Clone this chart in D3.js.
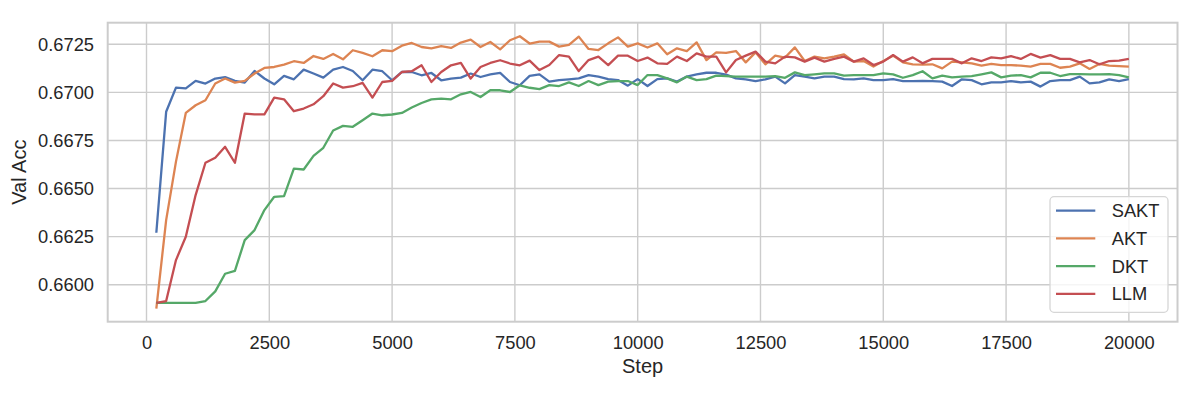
<!DOCTYPE html>
<html>
<head>
<meta charset="utf-8">
<script src="https://cdn.jsdelivr.net/npm/d3@7"></script>
<style>
  html, body { margin: 0; padding: 0; background: #fff; }
  text { font-family: 'Liberation Sans', Arial, sans-serif; fill: #262626; }
</style>
</head>
<body>
<div id="chart"></div>
<script>
var steps = [200, 400, 600, 800, 1000, 1200, 1400, 1600, 1800, 2000,
  2200, 2400, 2600, 2800, 3000, 3200, 3400, 3600, 3800, 4000,
  4200, 4400, 4600, 4800, 5000, 5200, 5400, 5600, 5800, 6000,
  6200, 6400, 6600, 6800, 7000, 7200, 7400, 7600, 7800, 8000,
  8200, 8400, 8600, 8800, 9000, 9200, 9400, 9600, 9800, 10000,
  10200, 10400, 10600, 10800, 11000, 11200, 11400, 11600, 11800, 12000,
  12200, 12400, 12600, 12800, 13000, 13200, 13400, 13600, 13800, 14000,
  14200, 14400, 14600, 14800, 15000, 15200, 15400, 15600, 15800, 16000,
  16200, 16400, 16600, 16800, 17000, 17200, 17400, 17600, 17800, 18000,
  18200, 18400, 18600, 18800, 19000, 19200, 19400, 19600, 19800, 20000]

var sakt = [0.66270, 0.66899, 0.67025, 0.67021, 0.67060, 0.67046, 0.67072, 0.67079, 0.67060, 0.67051,
  0.67111, 0.67072, 0.67042, 0.67086, 0.67068, 0.67118, 0.67098, 0.67077, 0.67118, 0.67132,
  0.67111, 0.67063, 0.67118, 0.67110, 0.67063, 0.67106, 0.67106, 0.67089, 0.67101, 0.67063,
  0.67072, 0.67077, 0.67098, 0.67080, 0.67094, 0.67101, 0.67054, 0.67037, 0.67086, 0.67094,
  0.67056, 0.67064, 0.67068, 0.67073, 0.67090, 0.67082, 0.67069, 0.67064, 0.67035, 0.67069,
  0.67033, 0.67069, 0.67073, 0.67056, 0.67082, 0.67094, 0.67102, 0.67102, 0.67092, 0.67073,
  0.67068, 0.67059, 0.67068, 0.67082, 0.67047, 0.67090, 0.67082, 0.67073, 0.67082, 0.67082,
  0.67069, 0.67068, 0.67073, 0.67064, 0.67064, 0.67069, 0.67059, 0.67059, 0.67060, 0.67059,
  0.67056, 0.67033, 0.67068, 0.67064, 0.67042, 0.67052, 0.67052, 0.67059, 0.67052, 0.67056,
  0.67030, 0.67059, 0.67064, 0.67064, 0.67082, 0.67047, 0.67052, 0.67068, 0.67059, 0.67069]

var akt = [0.65876, 0.66336, 0.66640, 0.66893, 0.66933, 0.66959, 0.67046, 0.67072, 0.67051, 0.67060,
  0.67098, 0.67127, 0.67132, 0.67144, 0.67162, 0.67153, 0.67189, 0.67174, 0.67200, 0.67172,
  0.67219, 0.67205, 0.67188, 0.67219, 0.67214, 0.67243, 0.67257, 0.67236, 0.67229, 0.67240,
  0.67231, 0.67259, 0.67274, 0.67236, 0.67262, 0.67224, 0.67271, 0.67292, 0.67254, 0.67264,
  0.67264, 0.67238, 0.67247, 0.67290, 0.67226, 0.67220, 0.67255, 0.67286, 0.67238, 0.67255,
  0.67233, 0.67255, 0.67198, 0.67229, 0.67215, 0.67260, 0.67168, 0.67208, 0.67205, 0.67215,
  0.67156, 0.67208, 0.67146, 0.67191, 0.67181, 0.67234, 0.67163, 0.67186, 0.67177, 0.67186,
  0.67198, 0.67160, 0.67163, 0.67134, 0.67163, 0.67191, 0.67156, 0.67146, 0.67144, 0.67146,
  0.67125, 0.67160, 0.67156, 0.67151, 0.67139, 0.67148, 0.67142, 0.67142, 0.67139, 0.67134,
  0.67148, 0.67148, 0.67128, 0.67134, 0.67151, 0.67122, 0.67148, 0.67139, 0.67137, 0.67134]

var dkt = [0.65906, 0.65906, 0.65906, 0.65906, 0.65906, 0.65915, 0.65965, 0.66057, 0.66072, 0.66232,
  0.66284, 0.66388, 0.66457, 0.66461, 0.66604, 0.66599, 0.66670, 0.66712, 0.66802, 0.66826,
  0.66821, 0.66855, 0.66890, 0.66881, 0.66885, 0.66893, 0.66921, 0.66945, 0.66964, 0.66968,
  0.66964, 0.66990, 0.67002, 0.66976, 0.67011, 0.67011, 0.67002, 0.67037, 0.67024, 0.67017,
  0.67038, 0.67033, 0.67052, 0.67033, 0.67059, 0.67038, 0.67056, 0.67059, 0.67059, 0.67038,
  0.67090, 0.67090, 0.67073, 0.67052, 0.67082, 0.67064, 0.67069, 0.67087, 0.67085, 0.67082,
  0.67082, 0.67082, 0.67082, 0.67085, 0.67076, 0.67104, 0.67090, 0.67094, 0.67099, 0.67099,
  0.67087, 0.67090, 0.67090, 0.67090, 0.67099, 0.67094, 0.67076, 0.67090, 0.67110, 0.67073,
  0.67087, 0.67078, 0.67082, 0.67085, 0.67094, 0.67104, 0.67078, 0.67087, 0.67090, 0.67078,
  0.67102, 0.67102, 0.67085, 0.67095, 0.67095, 0.67094, 0.67094, 0.67095, 0.67090, 0.67078]

var llm = [0.65906, 0.65915, 0.66128, 0.66249, 0.66466, 0.66634, 0.66660, 0.66717, 0.66634, 0.66890,
  0.66886, 0.66886, 0.66973, 0.66964, 0.66902, 0.66916, 0.66938, 0.66980, 0.67046, 0.67025,
  0.67032, 0.67049, 0.66973, 0.67054, 0.67060, 0.67106, 0.67110, 0.67141, 0.67054, 0.67106,
  0.67141, 0.67153, 0.67072, 0.67132, 0.67153, 0.67167, 0.67150, 0.67141, 0.67165, 0.67116,
  0.67142, 0.67194, 0.67186, 0.67111, 0.67168, 0.67186, 0.67142, 0.67191, 0.67191, 0.67163,
  0.67181, 0.67151, 0.67148, 0.67186, 0.67163, 0.67203, 0.67186, 0.67186, 0.67104, 0.67168,
  0.67191, 0.67212, 0.67160, 0.67151, 0.67186, 0.67182, 0.67160, 0.67181, 0.67160, 0.67174,
  0.67186, 0.67160, 0.67177, 0.67142, 0.67160, 0.67194, 0.67160, 0.67182, 0.67151, 0.67174,
  0.67174, 0.67174, 0.67151, 0.67177, 0.67163, 0.67182, 0.67177, 0.67189, 0.67174, 0.67200,
  0.67181, 0.67194, 0.67174, 0.67174, 0.67156, 0.67168, 0.67146, 0.67163, 0.67165, 0.67174]

var seriesNames = ['SAKT', 'AKT', 'DKT', 'LLM']
var seriesValues = [sakt, akt, dkt, llm]
var colors = ['#4c72b0', '#dd8452', '#55a868', '#c44e52']
var xTicks = [0, 2500, 5000, 7500, 10000, 12500, 15000, 17500, 20000]
var yTicks = [0.6600, 0.6625, 0.6650, 0.6675, 0.6700, 0.6725]

var width = 1200
var height = 400
var margin = { left: 107.7, top: 22.7, right: 22.5, bottom: 78.3 }
var plotW = width - margin.left - margin.right
var plotH = height - margin.top - margin.bottom

var x = d3.scaleLinear()
  .domain([-790, 20990])
  .range([0, plotW])

var y = d3.scaleLinear()
  .domain([0.658076, 0.673623])
  .range([plotH, 0])

var svg = d3.select('#chart').append('svg')
  .attr('width', width)
  .attr('height', height)

svg.append('rect')
  .attr('width', width)
  .attr('height', height)
  .attr('fill', '#fff')

var g = svg.append('g')
  .attr('transform', 'translate(' + margin.left + ',' + margin.top + ')')

// grid lines
g.append('g').selectAll('line.vgrid')
  .data(xTicks)
  .enter().append('line')
  .attr('x1', d => x(d)).attr('x2', d => x(d))
  .attr('y1', 0).attr('y2', plotH)
  .attr('stroke', '#cccccc')
  .attr('stroke-width', 1.4)

g.append('g').selectAll('line.hgrid')
  .data(yTicks)
  .enter().append('line')
  .attr('x1', 0).attr('x2', plotW)
  .attr('y1', d => y(d)).attr('y2', d => y(d))
  .attr('stroke', '#cccccc')
  .attr('stroke-width', 1.4)

// axes (no tick marks, seaborn whitegrid style)
var xAxis = d3.axisBottom(x)
  .tickValues(xTicks)
  .tickFormat(d3.format('d'))
  .tickSize(0)
  .tickPadding(14.6)

var yAxis = d3.axisLeft(y)
  .tickValues(yTicks)
  .tickFormat(d3.format('.4f'))
  .tickSize(0)
  .tickPadding(13.7)

var xg = g.append('g')
  .attr('transform', 'translate(0,' + plotH + ')')
  .call(xAxis)
xg.select('.domain').remove()
xg.selectAll('text')
  .attr('font-size', '18.3px')
  .attr('font-family', "'Liberation Sans', Arial, sans-serif")
  .attr('fill', '#262626')

var yg = g.append('g')
  .call(yAxis)
yg.select('.domain').remove()
yg.selectAll('text')
  .attr('font-size', '18.3px')
  .attr('font-family', "'Liberation Sans', Arial, sans-serif")
  .attr('fill', '#262626')

// lines
var line = d3.line()
  .x((d, i) => x(steps[i]))
  .y(d => y(d))

g.append('g').selectAll('path.series')
  .data(seriesValues)
  .enter().append('path')
  .attr('d', d => line(d))
  .attr('fill', 'none')
  .attr('stroke', (d, i) => colors[i])
  .attr('stroke-width', 2.3)
  .attr('stroke-linejoin', 'round')

// spines
g.append('rect')
  .attr('width', plotW)
  .attr('height', plotH)
  .attr('fill', 'none')
  .attr('stroke', '#cccccc')
  .attr('stroke-width', 2)

// axis labels
svg.append('text')
  .attr('x', margin.left + plotW / 2)
  .attr('y', 372.5)
  .attr('text-anchor', 'middle')
  .attr('font-size', '20px')
  .text('Step')

svg.append('text')
  .attr('transform', 'translate(25.5,' + (margin.top + plotH / 2) + ') rotate(-90)')
  .attr('text-anchor', 'middle')
  .attr('font-size', '20px')
  .text('Val Acc')

// legend
var legend = svg.append('g')
  .attr('transform', 'translate(1050,196.7)')

legend.append('rect')
  .attr('width', 118)
  .attr('height', 115.6)
  .attr('rx', 4)
  .attr('fill', '#fff')
  .attr('fill-opacity', 0.8)
  .attr('stroke', '#d6d6d6')
  .attr('stroke-width', 1.3)

var item = legend.selectAll('g.item')
  .data(seriesNames)
  .enter().append('g')
  .attr('transform', (d, i) => 'translate(0,' + (14 + i * 27.7) + ')')

item.append('line')
  .attr('x1', 6).attr('x2', 45.3)
  .attr('stroke', (d, i) => colors[i])
  .attr('stroke-width', 2.3)

item.append('text')
  .attr('x', 61.7)
  .attr('dy', '0.36em')
  .attr('font-size', '18.3px')
  .text(d => d)
</script>
</body>
</html>
